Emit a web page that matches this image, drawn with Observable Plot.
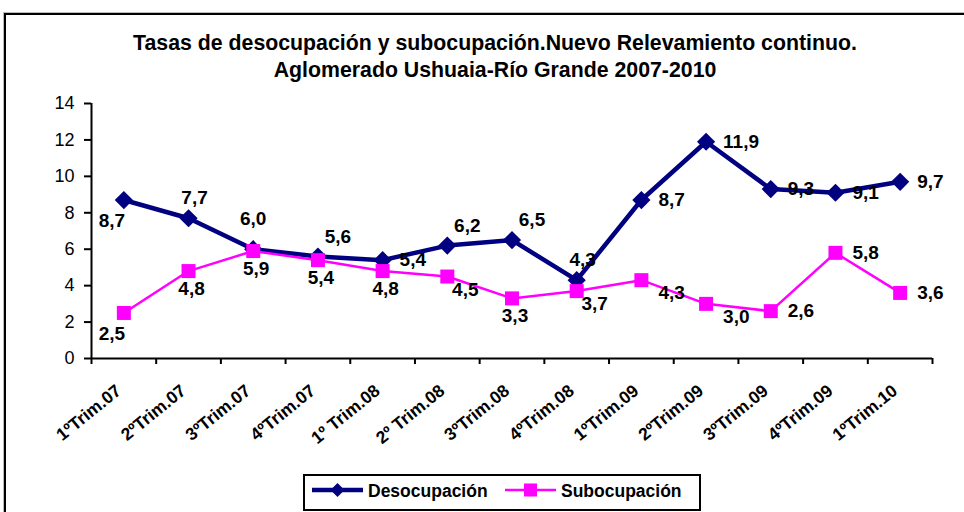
<!DOCTYPE html>
<html><head><meta charset="utf-8">
<script src="https://cdn.jsdelivr.net/npm/d3@7"></script>
<script src="https://cdn.jsdelivr.net/npm/@observablehq/plot@0.6"></script>
<style>
html,body{margin:0;padding:0;background:#fff;}
#wrap{position:relative;width:964px;height:512px;overflow:hidden;font-family:"Liberation Sans",Arial,sans-serif;background:#fff;}
#chart{position:absolute;left:0;top:0;}
#frame{position:absolute;left:4px;top:13px;width:980px;height:530px;border-left:2px solid #000;border-top:2px solid #000;box-shadow:-1px -1px 0 #bbb;}
#title{position:absolute;left:0;width:990px;top:30px;text-align:center;font-weight:bold;font-size:21.3px;line-height:27px;color:#000;}
#legend{position:absolute;left:303px;top:474px;width:394px;height:33px;border:2px solid #000;background:#fff;}
</style></head>
<body>
<div id="wrap">
  <div id="chart"></div>
  <div id="frame"></div>
  <div id="title">Tasas de desocupación y subocupación.Nuevo Relevamiento continuo.<br>Aglomerado Ushuaia-Río Grande 2007-2010</div>
  <div id="legend"></div>
</div>
<script>
const categories = ["1ºTrim.07","2ºTrim.07","3ºTrim.07","4ºTrim.07","1º Trim.08","2º Trim.08","3ºTrim.08","4ºTrim.08","1ºTrim.09","2ºTrim.09","3ºTrim.09","4ºTrim.09","1ºTrim.10"];
const desocupacion = [8.7, 7.7, 6.0, 5.6, 5.4, 6.2, 6.5, 4.3, 8.7, 11.9, 9.3, 9.1, 9.7];
const subocupacion = [2.5, 4.8, 5.9, 5.4, 4.8, 4.5, 3.3, 3.7, 4.3, 3.0, 2.6, 5.8, 3.6];
const desoLabelPos = ["bl","a","aa","ar","r","ar","ar","a","r","r","r","r","r"];
const subLabelPos  = ["bl","b","b","b","b","br","b","br","rb","rb","r","r","r"];
const yTicks = [0, 2, 4, 6, 8, 10, 12, 14];
const seriesNames = ["Desocupación", "Subocupación"];

const NAVY = "#000080", MAGENTA = "#FF00FF";
const FONT = "'Liberation Sans', Arial, sans-serif";
const fmt = v => v.toFixed(1).replace(".", ",");

const rows = categories.map((c, i) => ({
  i, pos: i + 0.5, cat: c,
  deso: desocupacion[i], sub: subocupacion[i],
  dpos: desoLabelPos[i], spos: subLabelPos[i]
}));

const OFF = {
  bl: {dx: -12, dy: 21, a: "middle"},
  a:  {dx: 6,   dy: -20, a: "middle"},
  aa: {dx: 0,   dy: -30, a: "middle"},
  ar: {dx: 20,  dy: -20, a: "middle"},
  r:  {dx: 17,  dy: 0,   a: "start"},
  b:  {dx: 3,   dy: 18,  a: "middle"},
  br: {dx: 18,  dy: 13,  a: "middle"},
  rb: {dx: 17,  dy: 13,  a: "start"}
};

const labelStyle = {fontSize: 19, fontWeight: "bold", fill: "#000", lineAnchor: "middle"};
const labelMarks = Object.entries(OFF).flatMap(([k, o]) => [
  Plot.text(rows.filter(d => d.dpos === k), {x: "pos", y: "deso", text: d => fmt(d.deso), dx: o.dx, dy: o.dy, textAnchor: o.a, ...labelStyle}),
  Plot.text(rows.filter(d => d.spos === k), {x: "pos", y: "sub", text: d => fmt(d.sub), dx: o.dx, dy: o.dy, textAnchor: o.a, ...labelStyle})
]);

const chart = Plot.plot({
  width: 964, height: 512,
  marginLeft: 91, marginRight: 32, marginTop: 103, marginBottom: 154,
  x: {domain: [0, 13], axis: null, label: null},
  y: {domain: [0, 14], axis: null, label: null},
  style: {background: "transparent", fontFamily: FONT, overflow: "visible"},
  marks: [
    Plot.axisY({ticks: yTicks, tickSize: 7, tickPadding: 10, fontSize: 18, tickFormat: d => d, stroke: "#000", fill: "#000", strokeWidth: 2, label: null}),
    Plot.axisX({ticks: d3.range(0, 14), tickSize: 6, tickFormat: () => "", stroke: "#000", strokeWidth: 2, label: null}),
    Plot.ruleX([0], {y1: 0, y2: 14, stroke: "#000", strokeWidth: 2}),
    Plot.ruleY([0], {stroke: "#000", strokeWidth: 2}),
    Plot.text(rows, {x: "pos", y: d => 0, text: "cat", rotate: -39, textAnchor: "end", lineAnchor: "middle", dx: -5, dy: 30, fontSize: 17.5, fontWeight: "bold", fill: "#000"}),
    Plot.line(rows, {x: "pos", y: "deso", stroke: NAVY, strokeWidth: 4.5}),
    Plot.dot(rows, {x: "pos", y: "deso", symbol: "diamond2", r: 8.2, fill: NAVY, stroke: "none"}),
    Plot.line(rows, {x: "pos", y: "sub", stroke: MAGENTA, strokeWidth: 2.5}),
    Plot.dot(rows, {x: "pos", y: "sub", symbol: "square", r: 7.9, fill: MAGENTA, stroke: "none"}),
    ...labelMarks
  ]
});
document.getElementById("chart").appendChild(chart);

// legend
const lg = d3.select("#legend").append("svg").attr("width", 394).attr("height", 33)
  .style("font-family", FONT).style("display", "block");
const items = [
  {name: seriesNames[0], color: NAVY, x0: 7, tx: 63, sw: 4.5, shape: "diamond"},
  {name: seriesNames[1], color: MAGENTA, x0: 200, tx: 256, sw: 2.5, shape: "square"}
];
items.forEach(it => {
  lg.append("line").attr("x1", it.x0).attr("x2", it.x0 + 51).attr("y1", 14).attr("y2", 14)
    .attr("stroke", it.color).attr("stroke-width", it.sw);
  const cx = it.x0 + 25.5;
  if (it.shape === "diamond") {
    lg.append("path").attr("d", `M${cx},${14-7}L${cx+7},14L${cx},${14+7}L${cx-7},14Z`).attr("fill", it.color);
  } else {
    lg.append("rect").attr("x", cx - 6.5).attr("y", 14 - 6.5).attr("width", 13).attr("height", 13).attr("fill", it.color);
  }
  lg.append("text").attr("x", it.tx).attr("y", 20.5).attr("font-size", 17.5).attr("font-weight", "bold")
    .attr("fill", "#000").text(it.name);
});
</script>
</body></html>
